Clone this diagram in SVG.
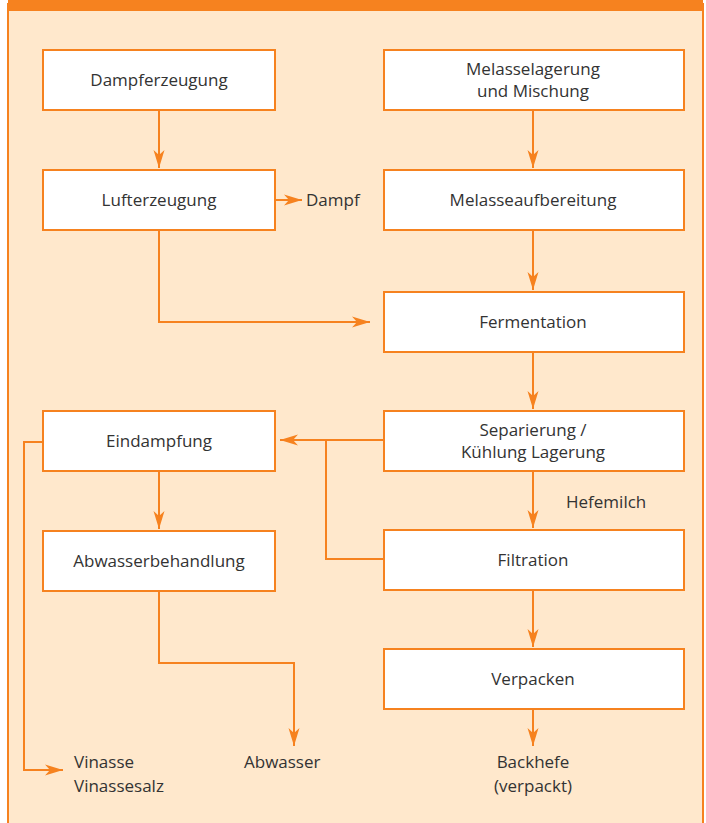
<svg xmlns="http://www.w3.org/2000/svg" width="706" height="823" viewBox="0 0 706 823">
<style>
.box{fill:#fff;stroke:#F6821F;stroke-width:2}
.t{font-family:"Open Sans","Noto Sans",sans-serif;font-size:17px;fill:#333;text-anchor:middle}
.l{font-family:"Open Sans","Noto Sans",sans-serif;font-size:17px;fill:#333}
.c{fill:none;stroke:#F6821F;stroke-width:2}
</style>
<defs>
<marker id="ah" markerUnits="userSpaceOnUse" markerWidth="20" markerHeight="12" viewBox="0 0 20 12" refX="18" refY="6" orient="auto">
<path d="M0,0.5 L18,6 L0,11.5 L5,6 z" fill="#F6821F"/>
</marker>
</defs>
<rect x="0" y="0" width="706" height="823" fill="#fff"/>
<rect x="8" y="4" width="695" height="830" fill="#FFE8CC" stroke="#F6821F" stroke-width="2"/>
<rect x="8" y="0" width="695" height="11" fill="#F6821F"/>

<g id="connectors">
<path class="c" d="M159,110 V168" marker-end="url(#ah)"/>
<path class="c" d="M275,200 H302" marker-end="url(#ah)"/>
<path class="c" d="M159,230 V322 H370" marker-end="url(#ah)"/>
<path class="c" d="M533,110 V168" marker-end="url(#ah)"/>
<path class="c" d="M533,230 V290" marker-end="url(#ah)"/>
<path class="c" d="M533,352 V409" marker-end="url(#ah)"/>
<path class="c" d="M533,471 V528" marker-end="url(#ah)"/>
<path class="c" d="M533,590 V647" marker-end="url(#ah)"/>
<path class="c" d="M533,709 V746" marker-end="url(#ah)"/>
<path class="c" d="M384,440 H280" marker-end="url(#ah)"/>
<path class="c" d="M326,440 V559 H384"/>
<path class="c" d="M159,471 V529" marker-end="url(#ah)"/>
<path class="c" d="M159,591 V663 H294 V746" marker-end="url(#ah)"/>
<path class="c" d="M43,442 H24 V770 H63" marker-end="url(#ah)"/>
</g>

<g id="n1"><rect class="box" x="43" y="50" width="232" height="60"/><text class="t" x="159" y="86">Dampferzeugung</text></g>
<g id="n2"><rect class="box" x="384" y="50" width="300" height="60"/><text class="t" x="533" y="75">Melasselagerung</text><text class="t" x="533" y="97">und Mischung</text></g>
<g id="n3"><rect class="box" x="43" y="170" width="232" height="60"/><text class="t" x="159" y="206">Lufterzeugung</text></g>
<g id="n4"><rect class="box" x="384" y="170" width="300" height="60"/><text class="t" x="533" y="206">Melasseaufbereitung</text></g>
<g id="n5"><rect class="box" x="384" y="292" width="300" height="60"/><text class="t" x="533" y="328">Fermentation</text></g>
<g id="n6"><rect class="box" x="384" y="411" width="300" height="60"/><text class="t" x="533" y="436">Separierung /</text><text class="t" x="533" y="458">Kühlung Lagerung</text></g>
<g id="n7"><rect class="box" x="43" y="411" width="232" height="60"/><text class="t" x="159" y="447">Eindampfung</text></g>
<g id="n8"><rect class="box" x="43" y="531" width="232" height="60"/><text class="t" x="159" y="567">Abwasserbehandlung</text></g>
<g id="n9"><rect class="box" x="384" y="530" width="300" height="60"/><text class="t" x="533" y="566">Filtration</text></g>
<g id="n10"><rect class="box" x="384" y="649" width="300" height="60"/><text class="t" x="533" y="685">Verpacken</text></g>

<g id="labels">
<text class="l" x="306" y="206">Dampf</text>
<text class="l" x="566" y="508">Hefemilch</text>
<text class="l" x="74" y="768">Vinasse</text>
<text class="l" x="74" y="792">Vinassesalz</text>
<text class="l" x="244" y="768">Abwasser</text>
<text class="t" x="533" y="768">Backhefe</text>
<text class="t" x="533" y="792">(verpackt)</text>
</g>
</svg>
